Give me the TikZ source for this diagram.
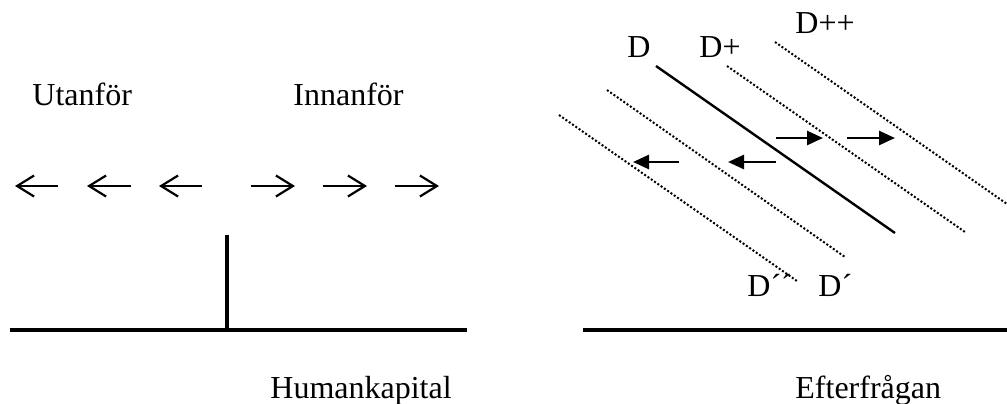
\documentclass[tikz,border=0pt]{standalone}
\usepackage{fontspec}
\setmainfont{Liberation Serif}
\usetikzlibrary{arrows.meta}

\begin{document}
\begin{tikzpicture}[x=0.5pt, y=-0.5pt,
    lbl/.style={anchor=base west, inner sep=0pt, font=\fontsize{16}{19}\selectfont},
    axis/.style={line width=1.7pt},
    open/.style={line width=1.1pt, -{Straight Barb[length=8.5pt, width=10.5pt]}},
    move/.style={line width=1.3pt, -{Triangle[length=8pt, width=7pt]}},
    curve/.style={line width=1.2pt},
    dots/.style={line width=1pt, dash pattern=on 1pt off 1pt}]

  \useasboundingbox (0,0) rectangle (1007,403);

  % left panel
  \node[lbl] (ut) at (32,105) {Utanför};
  \node[lbl] (in) at (293,105) {Innanför};
  \node[lbl] (hk) at (270,398) {Humankapital};

  \draw[axis] (10,330) -- (467,330);
  \draw[line width=2.3pt] (227,330) -- (227,235);

  \foreach \a/\b in {58/15, 131/87, 202/159, 251/295, 323/367, 395/439}
    \draw[open] (\a,186) -- (\b,186);

  % right panel
  \node[lbl] (d) at (627,57) {D};
  \node[lbl] (dp) at (699,57) {D+};
  \node[lbl] (dpp) at (795,33) {D++};
  \node[lbl] (dmm) at (747,296) {D´´};
  \node[lbl] (dm) at (818,296) {D´};
  \node[lbl] (ef) at (795,398) {Efterfrågan};

  \draw[axis] (583,330) -- (1007,330);

  \draw[curve] (656,66) -- (895,233);
  \draw[dots] (727,66) -- (965,232);
  \draw[dots] (775,42) -- (1007,204);
  \draw[dots] (607,90) -- (845,257);
  \draw[dots] (559,115) -- (797,281);

  \draw[move] (776,138) -- (823,138);
  \draw[move] (847,138) -- (895,138);
  \draw[move] (679,162) -- (633,162);
  \draw[move] (776,162) -- (728,162);

\end{tikzpicture}
\end{document}
